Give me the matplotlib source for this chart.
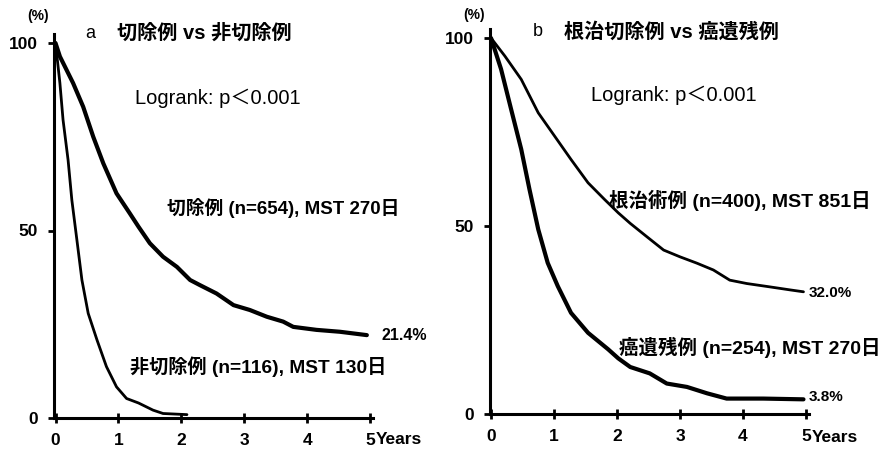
import matplotlib
matplotlib.use("Agg")
import matplotlib.pyplot as plt

plt.rcParams['font.family'] = ['Liberation Sans', 'Noto Sans CJK JP', 'DejaVu Sans']

# ---- data (years, survival %) ----
a_res_t = [0, 0.07, 0.28, 0.44, 0.60, 0.76, 0.97, 1.18, 1.32, 1.50, 1.71, 1.93, 2.14, 2.30, 2.56, 2.83,
           3.09, 3.36, 3.62, 3.78, 4.15, 4.52, 4.95]
a_res_s = [100, 96.4, 89.3, 83.0, 75.0, 67.9, 59.9, 54.6, 51.0, 46.6, 43.0, 40.3, 36.8, 35.4, 33.2, 30.1,
           28.8, 27.0, 25.7, 24.3, 23.5, 23.0, 22.1]
a_non_t = [0, 0.07, 0.12, 0.20, 0.26, 0.34, 0.42, 0.52, 0.66, 0.81, 0.97, 1.13, 1.32, 1.55, 1.71, 2.09]
a_non_s = [100, 89.3, 79.5, 68.8, 58.1, 47.5, 36.8, 27.9, 20.8, 13.7, 8.3, 5.2, 4.0, 2.1, 1.2, 0.9]

b_cur_t = [0, 0.22, 0.48, 0.75, 1.01, 1.27, 1.54, 1.80, 2.02, 2.21, 2.47, 2.74, 3.0, 3.27, 3.53, 3.79,
           4.06, 4.43, 4.75, 4.96]
b_cur_s = [100, 95.2, 89.0, 80.1, 73.9, 67.7, 61.5, 57.1, 53.5, 50.7, 47.2, 43.6, 41.8, 40.1, 38.3, 35.6,
           34.7, 33.8, 33.0, 32.5]
b_res_t = [0, 0.16, 0.32, 0.48, 0.61, 0.75, 0.90, 1.06, 1.27, 1.54, 1.86, 2.02, 2.21, 2.52, 2.79, 3.11,
           3.43, 3.74, 4.32, 4.96]
b_res_s = [100, 91.7, 81.0, 70.4, 59.8, 49.1, 40.2, 34.0, 26.9, 21.6, 17.2, 14.8, 12.5, 10.8, 8.1, 7.2,
           5.5, 4.1, 4.1, 3.9]

x_ticks = [0, 1, 2, 3, 4, 5]
x_labels = ['0', '1', '2', '3', '4', '5']
y_ticks = [0, 50, 100]
y_labels = ['0', '50', '100']

W, H = 882, 449
fig = plt.figure(figsize=(W / 100, H / 100), dpi=100)


def fx(x):
    return x / W


def fy(y):
    return 1 - y / H


def make_ax(x0, ppy, y0, ppp):
    xmin, xmax, ymax = -0.02, 5.05, 102.5
    left = x0 + xmin * ppy
    width = (xmax - xmin) * ppy
    top = y0 - ymax * ppp
    ax = fig.add_axes([fx(left), fy(y0), width / W, (y0 - top) / H])
    ax.set_xlim(xmin, xmax)
    ax.set_ylim(0, ymax)
    for s in ['top', 'right']:
        ax.spines[s].set_visible(False)
    for s in ['left', 'bottom']:
        ax.spines[s].set_linewidth(2.2)
    ax.set_xticks(x_ticks)
    ax.set_xticklabels(x_labels, fontsize=12.5, fontweight='bold')
    ax.set_yticks(y_ticks)
    ax.set_yticklabels(y_labels, fontsize=12.5, fontweight='bold')
    ax.tick_params(axis='x', direction='inout', length=7, width=2, pad=7.5)
    ax.tick_params(axis='y', direction='out', length=4, width=2, pad=7.5)
    ax.patch.set_alpha(0)
    return ax


axa = make_ax(55.5, 62.9, 418, 3.75)
axa.plot(a_res_t, a_res_s, color='black', lw=3.0, solid_joinstyle='round', solid_capstyle='round')
axa.plot(a_non_t, a_non_s, color='black', lw=2.0, solid_joinstyle='round', solid_capstyle='round')

axb = make_ax(491, 63.0, 414, 3.76)
axb.plot(b_cur_t, b_cur_s, color='black', lw=2.0, solid_joinstyle='round', solid_capstyle='round')
axb.plot(b_res_t, b_res_s, color='black', lw=3.0, solid_joinstyle='round', solid_capstyle='round')

bold = dict(fontweight='bold', color='black')

# panel a texts
fig.text(fx(38), fy(16), '(%)', fontsize=10, ha='center', va='center', **bold)
fig.text(fx(90), fy(33), 'a', fontsize=13, ha='center', va='center', color='black')
fig.text(fx(117), fy(33), '切除例 vs 非切除例', fontsize=14.5, ha='left', va='center', **bold)
fig.text(fx(135), fy(98), 'Logrank: p＜0.001', fontsize=14.5, ha='left', va='center', color='black')
fig.text(fx(167), fy(208), '切除例 (n=654), MST 270日', fontsize=13.5, ha='left', va='center', **bold)
fig.text(fx(382), fy(335), '21.4%', fontsize=11.5, ha='left', va='center', **bold)
fig.text(fx(130), fy(367), '非切除例 (n=116), MST 130日', fontsize=13.8, ha='left', va='center', **bold)
fig.text(fx(376), fy(439), 'Years', fontsize=12.5, ha='left', va='center', **bold)

# panel b texts
fig.text(fx(474), fy(15), '(%)', fontsize=10, ha='center', va='center', **bold)
fig.text(fx(538), fy(32), 'b', fontsize=13, ha='center', va='center', color='black')
fig.text(fx(564), fy(32), '根治切除例 vs 癌遺残例', fontsize=14.5, ha='left', va='center', **bold)
fig.text(fx(591), fy(95), 'Logrank: p＜0.001', fontsize=14.5, ha='left', va='center', color='black')
fig.text(fx(609), fy(200), '根治術例 (n=400), MST 851日', fontsize=14, ha='left', va='center', **bold)
fig.text(fx(809), fy(293), '32.0%', fontsize=11, ha='left', va='center', **bold)
fig.text(fx(619), fy(347), '癌遺残例 (n=254), MST 270日', fontsize=14, ha='left', va='center', **bold)
fig.text(fx(809), fy(397), '3.8%', fontsize=11, ha='left', va='center', **bold)
fig.text(fx(812), fy(437), 'Years', fontsize=12.5, ha='left', va='center', **bold)

fig.savefig('out.png', dpi=100)
